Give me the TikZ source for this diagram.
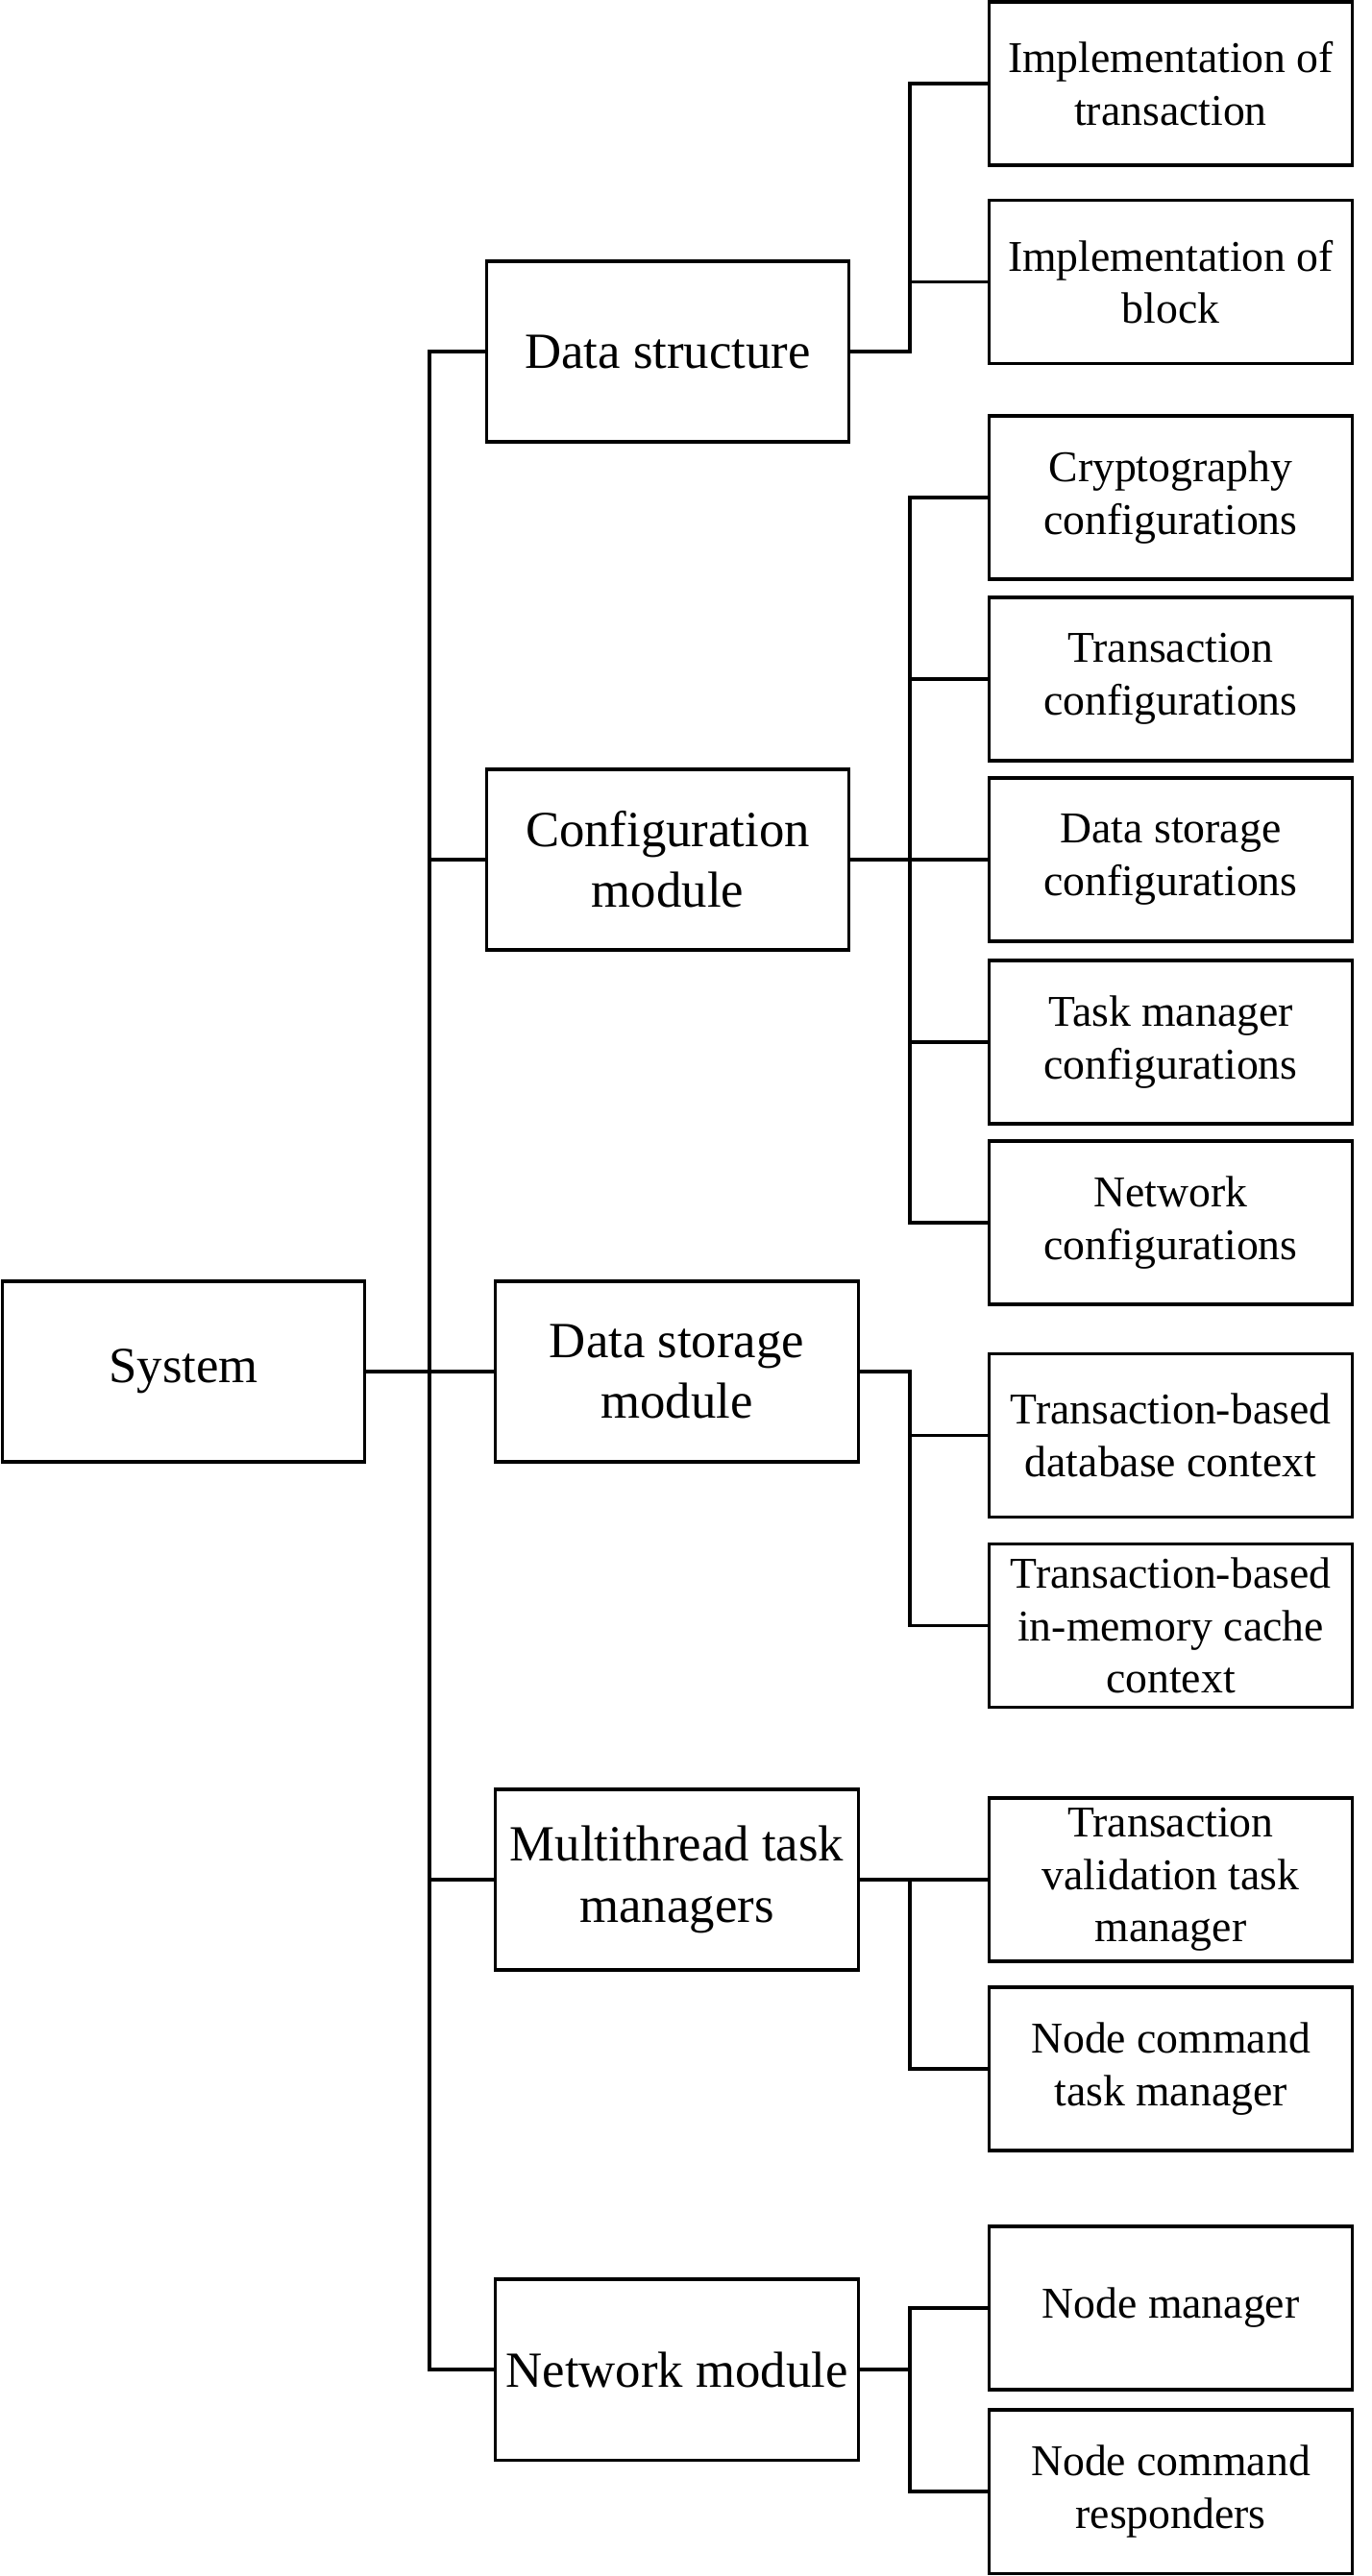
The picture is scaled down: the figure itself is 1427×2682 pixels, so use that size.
\documentclass[tikz,border=0pt]{standalone}
\usepackage{fontspec}
\setmainfont{Liberation Serif}
\usepackage{tikz}

\begin{document}
\begin{tikzpicture}[
        x=0.01cm, y=-0.01cm,
        line width=0.9pt,
        topbox/.style={draw, minimum width=3.77cm, minimum height=1.88cm, align=center, inner sep=2pt, font=\fontsize{15}{18}\selectfont},
        subbox/.style={draw, minimum width=3.77cm, minimum height=1.70cm, align=center, inner sep=2pt, font=\fontsize{13}{15.5}\selectfont}
    ]

    \useasboundingbox (0,0) rectangle (1427,2682);

    \node[topbox] (sys) at (191,1428) {System};

    \node[topbox] (ds) at (695,366) {Data structure};
    \node[topbox] (cfg) at (695,895) {Configuration\\module};
    \node[topbox] (dsm) at (704.5,1428) {Data storage\\module};
    \node[topbox] (mt) at (704.5,1957) {Multithread task\\managers};
    \node[topbox] (net) at (704.5,2467) {Network module};

    \node[subbox] (it) at (1218.5,87) {Implementation of\\transaction};
    \node[subbox] (ib) at (1218.5,293.5) {Implementation of\\block};
    \node[subbox] (cc) at (1218.5,518) {Cryptography\\configurations};
    \node[subbox] (tc) at (1218.5,707) {Transaction\\configurations};
    \node[subbox] (dc) at (1218.5,895) {Data storage\\configurations};
    \node[subbox] (tmc) at (1218.5,1085) {Task manager\\configurations};
    \node[subbox] (nc) at (1218.5,1273) {Network\\configurations};
    \node[subbox] (tdb) at (1218.5,1494.5) {Transaction-based\\database context};
    \node[subbox] (tmem) at (1218.5,1692.5) {Transaction-based\\in-memory cache\\context};
    \node[subbox] (tv) at (1218.5,1957) {Transaction\\validation task\\manager};
    \node[subbox] (nct) at (1218.5,2154) {Node command\\task manager};
    \node[subbox] (nm) at (1218.5,2403) {Node manager};
    \node[subbox] (ncr) at (1218.5,2594) {Node command\\responders};

    \coordinate (trunk) at (447,0);
    \coordinate (br) at (947,0);

    % main trunk
    \draw (sys) -- (dsm);
    \draw (ds.west) -- (ds.west -| trunk) -- (net.west -| trunk) -- (net.west);
    \draw (cfg.west) -- (cfg.west -| trunk);
    \draw (mt.west) -- (mt.west -| trunk);

    % branches
    \draw (ds.east) -- (ds.east -| br) |- (it.west);
    \draw (ds.east -| br) |- (ib.west);

    \draw (cfg.east) -- (dc.west);
    \draw (cc.west) -| (cfg.east -| br) |- (nc.west);
    \draw (tc.west) -- (tc.west -| br);
    \draw (tmc.west) -- (tmc.west -| br);

    \draw (dsm.east) -- (dsm.east -| br) |- (tmem.west);
    \draw (tdb.west) -- (tdb.west -| br);

    \draw (mt.east) -- (tv.west);
    \draw (mt.east -| br) |- (nct.west);

    \draw (net.east) -- (net.east -| br);
    \draw (nm.west) -| (net.east -| br) |- (ncr.west);

\end{tikzpicture}
\end{document}
